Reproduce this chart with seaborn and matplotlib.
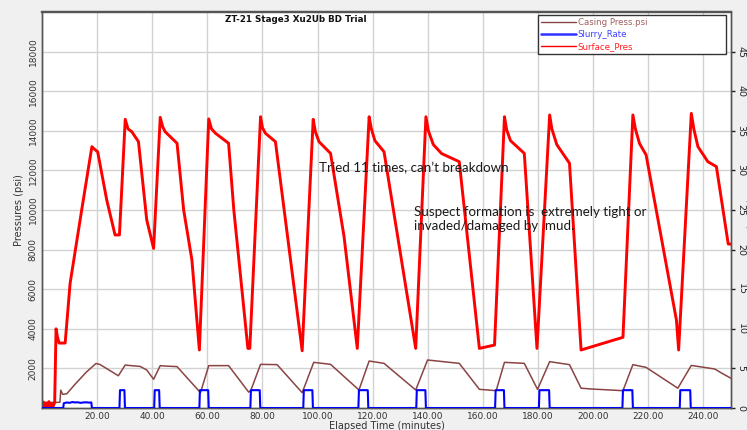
import matplotlib
matplotlib.use("Agg")
import matplotlib.pyplot as plt
import seaborn as sns
from matplotlib.lines import Line2D

# ---------------- data ----------------
surface_t = [0, 0.5, 1.0, 1.5, 2.0, 2.5, 3.0, 3.5, 4.0, 4.6,
             5.1, 5.6, 6.2, 8.4, 10.2, 14.4, 18.1, 18.8, 20.2, 23.5, 26.5, 28.1,
             30.2, 31.2, 32.6, 35.0, 38.0, 40.5,
             42.9, 43.8, 44.7, 49.0, 51.4, 54.4, 57.1,
             60.5, 61.5, 63.0, 67.7, 69.6, 74.7, 75.4,
             79.3, 80.0, 81.1, 84.7, 94.4,
             98.4, 99.2, 100.5, 104.7, 109.6, 114.4,
             118.7, 119.5, 120.8, 124.1, 135.6,
             139.3, 140.2, 142.0, 145.0, 151.4, 158.7, 164.2,
             167.8, 168.6, 170.0, 175.0, 179.6,
             184.2, 185.0, 186.8, 191.4, 195.6, 210.8,
             214.4, 215.3, 216.8, 219.2, 230.2, 231.0,
             235.6, 236.5, 238.0, 241.6, 244.7, 249.0, 250.0]
surface_psi = [100, 300, 50, 250, 80, 320, 30, 220, 90, 280,
               4000, 3600, 3280, 3280, 6300, 10000, 13200, 13100, 12940, 10500, 8740, 8740,
               14580, 14100, 13950, 13450, 9500, 8060,
               14680, 14200, 13950, 13370, 10000, 7470, 2930,
               14600, 14100, 13870, 13370, 10000, 3010, 3010,
               14710, 14150, 13870, 13450, 2890,
               14580, 13950, 13450, 12860, 8650, 3010,
               14710, 14100, 13500, 12940, 3010,
               14710, 14000, 13300, 12850, 12440, 3010, 3180,
               14710, 14050, 13500, 12860, 3010,
               14800, 14100, 13300, 12360, 2930, 3570,
               14800, 14100, 13360, 12780, 4440, 2930,
               14880, 14100, 13200, 12440, 12190, 8280, 8280]

casing_t = [0, 4.7, 6.5, 6.8, 7.5, 9.0, 12.0, 16.0, 19.6, 21.0, 27.7,
            30.2, 31.5, 35.6, 38.0, 40.5, 42.9, 44.5, 49.0, 57.5,
            60.5, 67.7, 75.0, 75.8, 79.3, 85.3, 94.4,
            98.6, 104.7, 115.0, 118.7, 124.1, 135.6,
            139.9, 151.4, 158.7, 164.8, 167.8, 175.0, 179.8,
            184.2, 191.4, 195.6, 199.3, 210.8, 214.4, 219.2, 230.7,
            235.6, 244.1, 246.5, 250.0]
casing_psi = [280, 280, 290, 900, 690, 720, 1200, 1800, 2250, 2200, 1630,
              2170, 2150, 2100, 1920, 1450, 2140, 2120, 2090, 775,
              2140, 2140, 800, 900, 2205, 2190, 774,
              2306, 2205, 909, 2373, 2255, 909,
              2424, 2255, 943, 875, 2306, 2255, 943,
              2340, 2190, 1000, 960, 875, 2190, 2050, 1000,
              2150, 1970, 1770, 1500]

rate_t = [0, 7.7, 7.9, 9.0, 10.0, 11.0, 12.0, 13.0, 14.0, 15.0, 16.0, 17.0, 17.9, 18.1,
          28.1, 28.3, 29.9, 30.1,
          40.7, 40.9, 42.5, 42.7,
          57.1, 57.3, 60.3, 60.5,
          75.6, 75.8, 79.0, 79.2,
          94.8, 95.0, 98.1, 98.3,
          114.8, 115.0, 118.2, 118.4,
          135.8, 136.0, 139.1, 139.3,
          164.4, 164.6, 167.6, 167.8,
          180.3, 180.5, 184.0, 184.2,
          210.6, 210.8, 214.2, 214.4,
          231.4, 231.6, 235.2, 235.4, 250.0]
rate_bpm = [0, 0, 0.6, 0.7, 0.65, 0.75, 0.7, 0.72, 0.65, 0.7, 0.72, 0.68, 0.7, 0,
            0, 2.25, 2.25, 0,
            0, 2.25, 2.25, 0,
            0, 2.25, 2.25, 0,
            0, 2.25, 2.25, 0,
            0, 2.25, 2.25, 0,
            0, 2.25, 2.25, 0,
            0, 2.25, 2.25, 0,
            0, 2.25, 2.25, 0,
            0, 2.25, 2.25, 0,
            0, 2.25, 2.25, 0,
            0, 2.25, 2.25, 0, 0]

x_ticks = [20, 40, 60, 80, 100, 120, 140, 160, 180, 200, 220, 240]
y_ticks = [2000, 4000, 6000, 8000, 10000, 12000, 14000, 16000, 18000]
y2_ticks = [0, 5, 10, 15, 20, 25, 30, 35, 40, 45]
series_names = ["Casing Press.psi", "Slurry_Rate", "Surface_Pres"]

# ---------------- figure ----------------
sns.set_style("white")
plt.rcParams["font.family"] = ["DejaVu Sans"]

W, H = 747, 430
fig = plt.figure(figsize=(W / 100, H / 100), dpi=100, facecolor="#f0f0f0")
ax = fig.add_axes([42 / W, 22 / H, 689 / W, 396 / H])
ax.set_facecolor("white")

c_casing = "#8a4444"
c_rate = "#0000ff"
c_surf = "#ff0000"

sns.lineplot(x=casing_t, y=casing_psi, ax=ax, sort=False, estimator=None,
             color=c_casing, linewidth=1.1, zorder=3)
sns.lineplot(x=surface_t, y=surface_psi, ax=ax, sort=False, estimator=None,
             color=c_surf, linewidth=2.1, zorder=4)

ax2 = ax.twinx()
sns.lineplot(x=rate_t, y=rate_bpm, ax=ax2, sort=False, estimator=None,
             color=c_rate, linewidth=1.5, zorder=3)

ax.set_xlim(0, 250)
ax.set_ylim(0, 20000)
ax2.set_ylim(0, 50)

ax.set_xticks(x_ticks)
ax.set_xticklabels([f"{v:.2f}" for v in x_ticks], fontsize=6.5, color="#333333")
ax.set_yticks(y_ticks)
ax.set_yticklabels([str(v) for v in y_ticks], fontsize=6.5, rotation=90,
                   va="center", ha="right", color="#333333")
ax.tick_params(axis="both", length=0, pad=3)

ax2.set_yticks(y2_ticks)
ax2.set_yticklabels([str(v) for v in y2_ticks], fontsize=6.8, rotation=-90,
                    va="center", ha="left", color="#222222")
ax2.tick_params(axis="y", length=3, width=1, direction="out", pad=1, color="#222222")

ax.grid(True, color="#d2d2d2", linewidth=1.0)
ax.set_axisbelow(True)

for a in (ax, ax2):
    for s in a.spines.values():
        s.set_color("#555555")
        s.set_linewidth(1.0)
ax.spines["top"].set_linewidth(1.6)
ax2.spines["top"].set_linewidth(1.6)

ax.set_xlabel("Elapsed Time (minutes)", fontsize=7, color="#333333")
ax.xaxis.set_label_coords(0.5, -0.033)
ax.set_ylabel("Pressures (psi)", fontsize=7, color="#333333")
ax.yaxis.set_label_coords(-0.026, 0.5)
ax2.set_ylabel("")
fig.text(750 / W, 1 - 200 / H, "Rate (bpm)", rotation=-90, ha="center",
         va="center", fontsize=7.5, color="#333333")

ax.text(0.266, 0.98, "ZT-21 Stage3 Xu2Ub BD Trial", transform=ax.transAxes,
        fontsize=6.3, fontweight="bold", va="center", ha="left", color="#111111")

ax.text(100.4, 12120, "Tried 11 times, can\u2019t breakdown", fontsize=9.6,
        family=["Lato", "DejaVu Sans"], va="center", ha="left", color="#1a1a1a", zorder=6)
ax.text(135, 10200, "Suspect formation is  extremely tight or\ninvaded/damaged by  mud.",
        fontsize=9.6, family=["Lato", "DejaVu Sans"], va="top", ha="left",
        color="#1a1a1a", linespacing=1.15, zorder=6)

handles = [Line2D([], [], color=c_casing, lw=1.0),
           Line2D([], [], color="#3030ff", lw=1.8),
           Line2D([], [], color=c_surf, lw=1.0)]
leg = ax2.legend(handles, series_names, loc="upper left",
                 bbox_to_anchor=(0.72, 0.886, 0.273, 0.106), mode="expand",
                 fontsize=6.2, handlelength=4.0, handletextpad=0.25,
                 borderaxespad=0, frameon=True, fancybox=False,
                 borderpad=0.35, labelspacing=0.35)
leg.get_frame().set_edgecolor("#333333")
leg.get_frame().set_linewidth(1.0)
leg.get_frame().set_facecolor("white")
leg.get_frame().set_alpha(1)
for txt, col in zip(leg.get_texts(), ["#a06060", "#4040ff", "#ff2020"]):
    txt.set_color(col)

fig.savefig("out.png", dpi=100, facecolor=fig.get_facecolor())
